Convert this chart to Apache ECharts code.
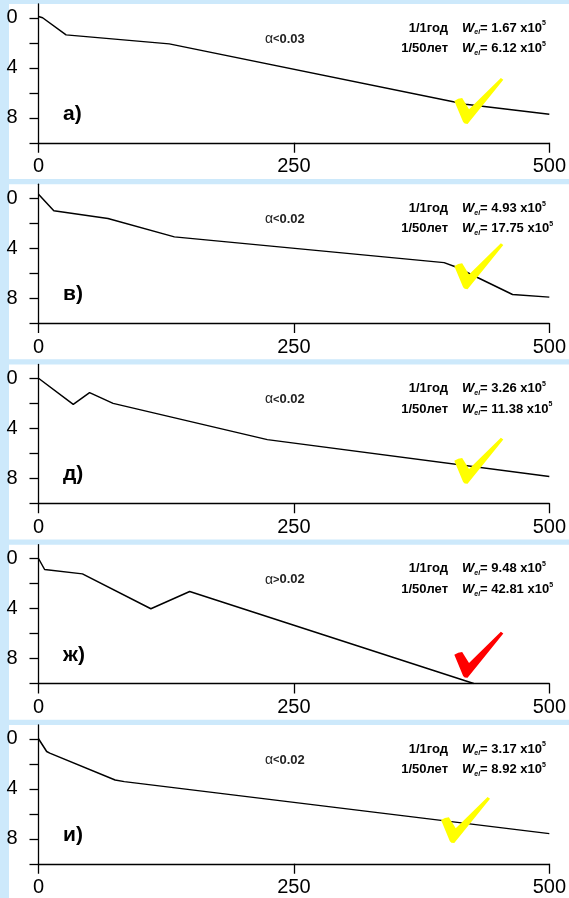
<!DOCTYPE html>
<html><head><meta charset="utf-8">
<script src="https://cdn.jsdelivr.net/npm/echarts@6/dist/echarts.min.js"></script>
<style>html,body{margin:0;padding:0;background:#cde9fb}#c{width:569px;height:898px}</style>
</head><body><div id="c"></div>
<script>
// ---- data ----
const panelLabels = ['а)', 'в)', 'д)', 'ж)', 'и)'];
const alphaSign = ['<', '<', '<', '>', '<'];
const alphaVal = ['0.03', '0.02', '0.02', '0.02', '0.02'];
const w1 = ['1.67', '4.93', '3.26', '9.48', '3.17'];
const w50 = ['6.12', '17.75', '11.38', '42.81', '8.92'];
const xTicks = [0, 250, 500];
const yTickVals = [0, 2, 4, 6, 8, 10];
const yLabelVals = [0, 4, 8];
const profileA = [[0, -0.1], [4, 0], [27, 1.37], [128, 2.09], [418, 6.92], [500, 7.72]];
const profileV = [[0, -0.3], [15, 1.02], [68, 1.64], [133, 3.11], [397, 5.17], [408, 5.5], [464, 7.72], [500, 7.93]];
const profileD = [[0, 0], [34, 2.09], [50, 1.15], [73, 2.01], [224, 4.91], [500, 7.86]];
const profileZh = [[0, 0], [6, 0.88], [43, 1.23], [110, 4.02], [148, 2.64], [426, 10]];
const profileI = [[0, 0], [8, 1.02], [11, 1.15], [75, 3.3], [84, 3.43], [500, 7.59]];
const profiles = [profileA, profileV, profileD, profileZh, profileI];
const checkPos = [[431, 6.65], [431, 5.45], [431, 6.6], [431, 7.7], [418, 6.5]];
const checkColors = ['#ffff00', '#ffff00', '#ffff00', '#ff0000', '#ffff00'];

// ---- layout ----
const W = 569, H = 898;
const step = 180.25;
const gridLeft = 38.5, gridRight = 17;
const FONT = '"Liberation Sans", Arial, sans-serif';
const checkPath = 'path://M0,50 Q8,44 16,44 L30,68 L95,0 L100,4 L27,100 Q20,100 18,96 Z';

const chart = echarts.init(document.getElementById('c'), null, {renderer: 'canvas'});
const grids = [], xAxes = [], yAxes = [], series = [], graphics = [];

profiles.forEach((data, k) => {
  const oy = 4 + step * k;
  const panelH = (k === 4) ? (H - oy) : 175;
  graphics.push({type: 'rect', z: -10, shape: {x: 9, y: oy, width: W - 9, height: panelH}, style: {fill: '#ffffff'}, silent: true});
  grids.push({left: gridLeft, right: gridRight, top: oy, height: 138.75, containLabel: false});
  xAxes.push({
    type: 'value', gridIndex: k, min: 0, max: 500, interval: 250, position: 'bottom',
    axisLine: {onZero: false, lineStyle: {color: '#000', width: 1.3}},
    axisTick: {length: 10, lineStyle: {color: '#000', width: 1.3}},
    axisLabel: {color: '#000', fontSize: 20, fontFamily: FONT, margin: 14, showMinLabel: true, showMaxLabel: true},
    splitLine: {show: false}
  });
  yAxes.push({
    type: 'value', gridIndex: k, min: -1.1, max: 10, inverse: true,
    axisLine: {onZero: false, lineStyle: {color: '#000', width: 1.3}},
    axisTick: {length: 9, customValues: yTickVals, lineStyle: {color: '#000', width: 1.3}},
    axisLabel: {color: '#000', fontSize: 20, fontFamily: FONT, margin: 21, customValues: yLabelVals},
    splitLine: {show: false}
  });
  series.push({
    type: 'line', xAxisIndex: k, yAxisIndex: k, data: data, symbol: 'none', silent: true,
    lineStyle: {color: '#000', width: 1.5}, z: 3,
    markPoint: {
      symbol: checkPath, symbolSize: [49, 46], symbolKeepAspect: false, silent: true,
      itemStyle: {color: checkColors[k]}, label: {show: false},
      data: [{coord: checkPos[k]}]
    }
  });
  // panel letter
  graphics.push({type: 'text', z: 20, silent: true, style: {text: panelLabels[k], x: 63, y: oy + 110, font: 'bold 21px ' + FONT, fill: '#000', textVerticalAlign: 'middle'}});
  // alpha text
  graphics.push({type: 'text', z: 20, silent: true, style: {
    text: '{a|α}{b|' + alphaSign[k] + '}{c|' + alphaVal[k] + '}', x: 265, y: oy + 35,
    textVerticalAlign: 'middle',
    rich: {
      a: {font: '14px ' + FONT, fill: '#222'},
      b: {font: 'bold 11px ' + FONT, fill: '#222'},
      c: {font: 'bold 13px ' + FONT, fill: '#222'}
    }}});
  // W annotations
  const rows = [['1/1год', w1[k]], ['1/50лет', w50[k]]];
  rows.forEach((r, j) => {
    const ty = oy + 24 + j * 20.5;
    graphics.push({type: 'text', z: 20, silent: true, style: {text: r[0], x: 448, y: ty, font: 'bold 13px ' + FONT, fill: '#000', textAlign: 'right', textVerticalAlign: 'middle'}});
    graphics.push({type: 'text', z: 20, silent: true, style: {
      text: '{w|W}{s|ei}{t|= ' + r[1] + ' x10}{p|5}', x: 462, y: ty, textVerticalAlign: 'middle',
      rich: {
        w: {font: 'italic bold 13px ' + FONT, fill: '#000', lineHeight: 16},
        s: {font: 'italic bold 7px ' + FONT, fill: '#000', lineHeight: 16, verticalAlign: 'bottom'},
        t: {font: 'bold 13px ' + FONT, fill: '#000', lineHeight: 16},
        p: {font: 'bold 7px ' + FONT, fill: '#000', lineHeight: 16, verticalAlign: 'top'}
      }}});
  });
});

chart.setOption({
  backgroundColor: '#cde9fb',
  animation: false,
  grid: grids, xAxis: xAxes, yAxis: yAxes, series: series, graphic: graphics
});
</script></body></html>
